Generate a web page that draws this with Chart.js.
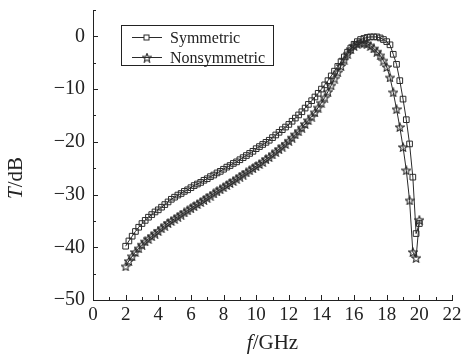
<!DOCTYPE html>
<html>
<head>
<meta charset="utf-8">
<script src="https://cdn.jsdelivr.net/npm/chart.js@4.4.1/dist/chart.umd.min.js"></script>
<style>
  html, body { margin: 0; padding: 0; background: #fff; }
</style>
</head>
<body>
<canvas id="c" width="463" height="362"></canvas>
<script>
// frequency samples, GHz
const freq = [
  2, 2.2, 2.4, 2.6, 2.8, 3, 3.2, 3.4, 3.6, 3.8,
  4, 4.2, 4.4, 4.6, 4.8, 5, 5.2, 5.4, 5.6, 5.8,
  6, 6.2, 6.4, 6.6, 6.8, 7, 7.2, 7.4, 7.6, 7.8,
  8, 8.2, 8.4, 8.6, 8.8, 9, 9.2, 9.4, 9.6, 9.8,
  10, 10.2, 10.4, 10.6, 10.8, 11, 11.2, 11.4, 11.6, 11.8,
  12, 12.2, 12.4, 12.6, 12.8, 13, 13.2, 13.4, 13.6, 13.8,
  14, 14.2, 14.4, 14.6, 14.8, 15, 15.2, 15.4, 15.6, 15.8,
  16, 16.2, 16.4, 16.6, 16.8, 17, 17.2, 17.4, 17.6, 17.8,
  18, 18.2, 18.4, 18.6, 18.8, 19, 19.2, 19.4, 19.6, 19.8,
  20
];

// T in dB
const symmetric = [
  -39.8, -38.8, -37.9, -37.0, -36.2, -35.5, -34.9, -34.3, -33.8, -33.3,
  -32.9, -32.4, -31.9, -31.4, -30.9, -30.5, -30.1, -29.8, -29.4, -29.1,
  -28.7, -28.3, -28.0, -27.7, -27.3, -27.0, -26.6, -26.3, -25.9, -25.6,
  -25.2, -24.8, -24.5, -24.1, -23.8, -23.4, -23.0, -22.6, -22.2, -21.8,
  -21.3, -20.9, -20.5, -20.1, -19.7, -19.2, -18.7, -18.2, -17.7, -17.2,
  -16.7, -16.1, -15.5, -14.9, -14.3, -13.6, -12.9, -12.2, -11.5, -10.8,
  -10.0, -9.2, -8.4, -7.5, -6.6, -5.7, -4.8, -3.9, -3.0, -2.2,
  -1.5, -1.0, -0.6, -0.4, -0.2, -0.1, -0.1, -0.1, -0.3, -0.6,
  -1.0, -1.6, -3.4, -5.3, -8.4, -11.9, -15.8, -20.4, -26.7, -37.4,
  -35.5
];

const nonsymmetric = [
  -43.6, -42.6, -41.7, -40.9, -40.2, -39.5, -38.9, -38.4, -37.9, -37.4,
  -36.9, -36.4, -35.9, -35.4, -35.0, -34.6, -34.2, -33.8, -33.4, -33.0,
  -32.6, -32.2, -31.8, -31.4, -31.0, -30.6, -30.2, -29.8, -29.4, -29.0,
  -28.6, -28.2, -27.8, -27.4, -27.0, -26.6, -26.2, -25.8, -25.4, -25.0,
  -24.6, -24.2, -23.8, -23.3, -22.9, -22.4, -21.9, -21.4, -20.9, -20.4,
  -19.8, -19.2, -18.6, -18.0, -17.3, -16.6, -15.9, -15.2, -14.4, -13.5,
  -12.6, -11.6, -10.5, -9.3, -8.0, -6.8, -5.6, -4.4, -3.3, -2.4,
  -1.8, -1.4, -1.2, -1.2, -1.4, -1.8, -2.3, -2.9, -3.6, -4.6,
  -5.8, -7.8, -10.6, -13.8, -17.2, -21.0, -25.4, -31.1, -40.9, -42.0,
  -34.8
];

const seriesNames = ['Symmetric', 'Nonsymmetric'];
const xTicks = [0, 2, 4, 6, 8, 10, 12, 14, 16, 18, 20, 22];
const xMinor = [1, 3, 5, 7, 9, 11, 13, 15, 17, 19, 21];
const yTicks = [0, -10, -20, -30, -40, -50];
const yMinor = [5, -5, -15, -25, -35, -45];

const ink = '#2a2a2a';
const serif = '"Liberation Serif", "DejaVu Serif", serif';

// hollow five-point star marker
function makeStar(size) {
  const c = document.createElement('canvas');
  c.width = size; c.height = size;
  const g = c.getContext('2d');
  const R = size / 2 - 0.5, r = R * 0.45;
  g.beginPath();
  for (let i = 0; i < 10; i++) {
    const a = -Math.PI / 2 + i * Math.PI / 5;
    const rr = i % 2 ? r : R;
    g.lineTo(size / 2 + rr * Math.cos(a), size / 2 + 0.5 + rr * Math.sin(a));
  }
  g.closePath();
  g.strokeStyle = ink;
  g.lineWidth = 1.1;
  g.stroke();
  return c;
}
const star = makeStar(10);

const pts = ys => freq.map((f, i) => ({ x: f, y: ys[i] }));

const decor = {
  id: 'decor',
  afterDraw(chart) {
    const { ctx, scales: { x, y }, chartArea: a } = chart;
    ctx.save();
    ctx.strokeStyle = '#222';
    ctx.lineWidth = 1;
    ctx.beginPath();
    // inward ticks
    xTicks.forEach(v => { const px = Math.round(x.getPixelForValue(v)) + 0.5; ctx.moveTo(px, a.bottom); ctx.lineTo(px, a.bottom - 5); });
    xMinor.forEach(v => { const px = Math.round(x.getPixelForValue(v)) + 0.5; ctx.moveTo(px, a.bottom); ctx.lineTo(px, a.bottom - 3); });
    yTicks.forEach(v => { const py = Math.round(y.getPixelForValue(v)) + 0.5; ctx.moveTo(a.left, py); ctx.lineTo(a.left + 5, py); });
    yMinor.forEach(v => { const py = Math.round(y.getPixelForValue(v)) + 0.5; ctx.moveTo(a.left, py); ctx.lineTo(a.left + 3, py); });
    ctx.stroke();

    // axis titles, italic symbol + upright unit
    ctx.fillStyle = '#222';
    ctx.textBaseline = 'middle';
    const title = (sym, unit, cx, cy, rot) => {
      ctx.save();
      ctx.translate(cx, cy);
      ctx.rotate(rot);
      ctx.font = 'italic 21px ' + serif;
      const w1 = ctx.measureText(sym).width;
      ctx.font = '21px ' + serif;
      const w2 = ctx.measureText(unit).width;
      ctx.textAlign = 'left';
      ctx.font = 'italic 21px ' + serif;
      ctx.fillText(sym, -(w1 + w2) / 2, 0);
      ctx.font = '21px ' + serif;
      ctx.fillText(unit, -(w1 + w2) / 2 + w1, 0);
      ctx.restore();
    };
    title('f', '/GHz', (a.left + a.right) / 2, 343, 0);
    title('T', '/dB', 16, 178, -Math.PI / 2);

    // legend box
    const lx = 121.5, ly = 25.5, lw = 152, lh = 40;
    ctx.strokeStyle = '#222';
    ctx.strokeRect(lx, ly, lw, lh);
    const rows = [37.5, 57.5];
    chart.data.datasets.forEach((ds, i) => {
      const ry = rows[i];
      ctx.strokeStyle = ink;
      ctx.beginPath();
      ctx.moveTo(132, ry); ctx.lineTo(162, ry);
      ctx.stroke();
      if (ds.pointStyle === 'rect') {
        ctx.fillStyle = '#fff';
        ctx.fillRect(144, ry - 2.5, 5, 5);
        ctx.strokeRect(144, ry - 2.5, 5, 5);
      } else {
        ctx.drawImage(ds.pointStyle, 147 - 5, ry - 5);
      }
      ctx.fillStyle = '#222';
      ctx.font = '16px ' + serif;
      ctx.textAlign = 'left';
      ctx.fillText(ds.label, 170, ry + 1);
    });
    ctx.restore();
  }
};

new Chart(document.getElementById('c'), {
  type: 'scatter',
  data: {
    datasets: [
      {
        label: seriesNames[0],
        data: pts(symmetric),
        showLine: true,
        borderColor: ink,
        borderWidth: 1,
        backgroundColor: 'rgba(0,0,0,0)',
        pointStyle: 'rect',
        pointRadius: 4,
        pointBorderWidth: 1,
        tension: 0
      },
      {
        label: seriesNames[1],
        data: pts(nonsymmetric),
        showLine: true,
        borderColor: ink,
        borderWidth: 1,
        backgroundColor: 'rgba(0,0,0,0)',
        pointStyle: star,
        pointRadius: 4,
        tension: 0
      }
    ]
  },
  options: {
    responsive: false,
    animation: false,
    layout: { padding: { left: 0, top: 10, right: 11, bottom: 0 } },
    plugins: { legend: { display: false }, tooltip: { enabled: false } },
    scales: {
      x: {
        type: 'linear',
        min: 0,
        max: 22,
        afterBuildTicks: s => { s.ticks = xTicks.map(v => ({ value: v })); },
        afterFit: s => { s.height = 62; s.paddingLeft = 0; s.paddingRight = 0; },
        grid: { display: false, drawTicks: false },
        border: { display: true, color: '#222', width: 1 },
        ticks: { color: '#222', padding: 4, maxRotation: 0, autoSkip: false, font: { family: serif, size: 19 } }
      },
      y: {
        type: 'linear',
        min: -50,
        max: 5,
        afterBuildTicks: s => { s.ticks = yTicks.map(v => ({ value: v })); },
        afterFit: s => { s.width = 93; s.paddingTop = 0; s.paddingBottom = 0; },
        grid: { display: false, drawTicks: false },
        border: { display: true, color: '#222', width: 1 },
        ticks: {
          color: '#222',
          padding: 8,
          font: { family: serif, size: 20, lineHeight: 1 },
          callback: v => (v < 0 ? '\u2212' + Math.abs(v) : String(v))
        }
      }
    }
  },
  plugins: [decor]
});
</script>
</body>
</html>
